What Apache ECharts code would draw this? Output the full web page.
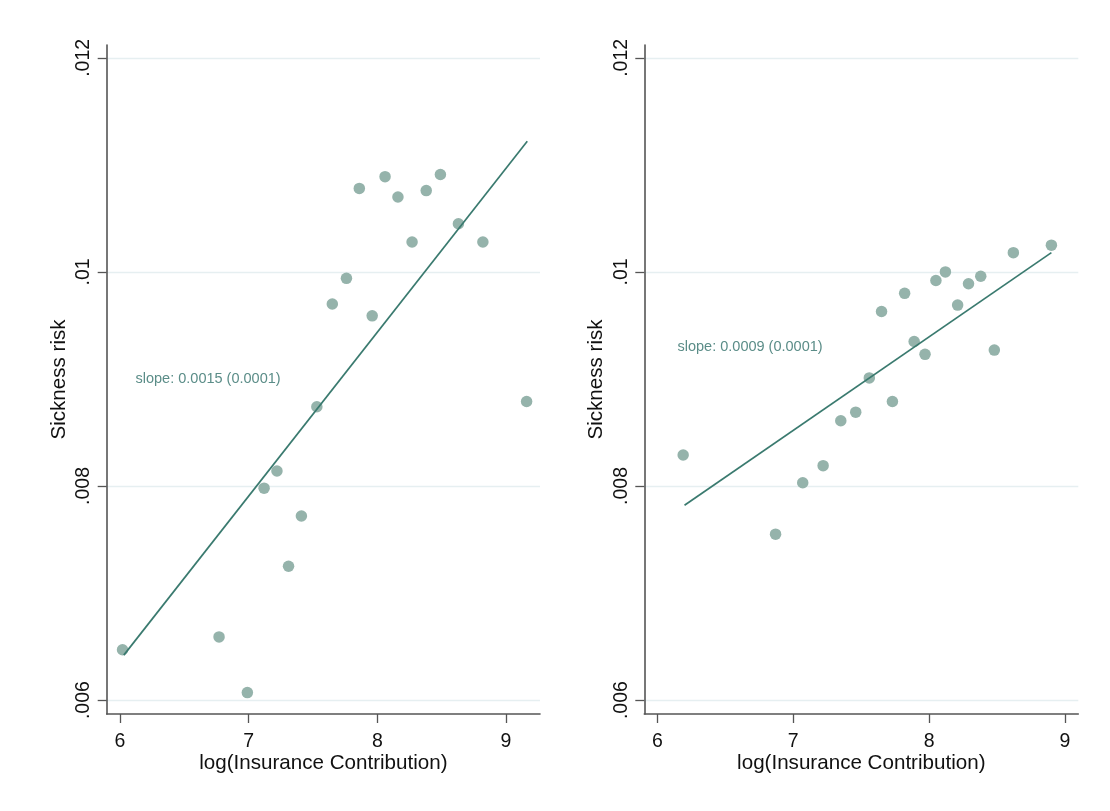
<!DOCTYPE html>
<html>
<head>
<meta charset="utf-8">
<script src="https://cdn.jsdelivr.net/npm/echarts@6/dist/echarts.min.js"></script>
<style>
html, body { margin: 0; padding: 0; background: #fff; }
#chart { width: 1110px; height: 811px; }
</style>
</head>
<body>
<div id="chart"></div>
<script>
// 左图：散点
var leftX = [6.02, 6.77, 6.99, 7.12, 7.22, 7.31, 7.41, 7.53, 7.65, 7.76, 7.86, 7.96, 8.06, 8.16, 8.27, 8.38, 8.49, 8.63, 8.82, 9.16];
var leftY = [0.00647, 0.00659, 0.00607, 0.00798, 0.00814, 0.00725, 0.00772, 0.00874, 0.00970, 0.00994, 0.01078, 0.00959, 0.01089, 0.01070, 0.01028, 0.01076, 0.01091, 0.01045, 0.01028, 0.00879];
// 左图：拟合线端点
var leftFitX = [6.03, 9.165];
var leftFitY = [0.00642, 0.01122];

// 右图：散点
var rightX = [6.19, 6.87, 7.07, 7.22, 7.35, 7.46, 7.56, 7.65, 7.73, 7.82, 7.89, 7.97, 8.05, 8.12, 8.21, 8.29, 8.38, 8.48, 8.62, 8.90];
var rightY = [0.00829, 0.00755, 0.00803, 0.00819, 0.00861, 0.00869, 0.00901, 0.00963, 0.00879, 0.00980, 0.00935, 0.00923, 0.00992, 0.01000, 0.00969, 0.00989, 0.00996, 0.00927, 0.01018, 0.01025];
var rightFitX = [6.2, 8.9];
var rightFitY = [0.00782, 0.01018];

var xTicks = [6, 7, 8, 9];
var yTicks = [0.006, 0.008, 0.010, 0.012];
var yTickLabels = [".006", ".008", ".01", ".012"];
var slopeLabels = ["slope: 0.0015 (0.0001)", "slope: 0.0009 (0.0001)"];

function pairs(xs, ys) {
    var out = [];
    for (var i = 0; i < xs.length; i++) {
        out.push([xs[i], ys[i]]);
    }
    return out;
}

var chart = echarts.init(document.getElementById("chart"));

var axisColor = "#555";
var font = "Liberation Sans, Arial, sans-serif";

function xAxisFor(gridIndex, min, max) {
    return {
        type: "value",
        gridIndex: gridIndex,
        min: min,
        max: max,
        name: "log(Insurance Contribution)",
        nameLocation: "middle",
        nameGap: 39,
        nameMoveOverlap: false,
        nameTextStyle: { fontSize: 20.6, color: "#111", fontFamily: font },
        axisLine: { show: true, onZero: false, lineStyle: { color: axisColor, width: 1.6 } },
        axisTick: { show: true, length: 9, customValues: xTicks, lineStyle: { color: axisColor, width: 1.3 } },
        axisLabel: { customValues: xTicks, margin: 17.5, fontSize: 19.5, color: "#111", fontFamily: font, showMinLabel: true, showMaxLabel: true },
        splitLine: { show: false }
    };
}

function yAxisFor(gridIndex) {
    return {
        type: "value",
        gridIndex: gridIndex,
        min: 0.00587,
        max: 0.01212,
        name: "Sickness risk",
        nameLocation: "middle",
        nameGap: 37,
        nameTextStyle: { fontSize: 20.6, color: "#111", fontFamily: font },
        axisLine: { show: true, onZero: false, lineStyle: { color: axisColor, width: 1.6 } },
        axisTick: { show: true, length: 9, customValues: yTicks, lineStyle: { color: axisColor, width: 1.3 } },
        axisLabel: {
            customValues: yTicks,
            rotate: 90,
            margin: 13,
            fontSize: 19.5,
            color: "#111",
            fontFamily: font,
            formatter: function(v) {
                for (var i = 0; i < yTicks.length; i++) {
                    if (Math.abs(yTicks[i] - v) < 1e-9) return yTickLabels[i];
                }
                return "";
            }
        },
        splitLine: { show: true, lineStyle: { color: "#e6eff1", width: 1.3 } }
    };
}

var option = {
    backgroundColor: "#fff",
    animation: false,
    grid: [
        { left: 106.7, top: 45, width: 433.3, height: 669 },
        { left: 644.3, top: 45, width: 434, height: 669 }
    ],
    xAxis: [
        xAxisFor(0, 5.897, 9.264),
        xAxisFor(1, 5.904, 9.098)
    ],
    yAxis: [
        yAxisFor(0),
        yAxisFor(1)
    ],
    graphic: [
        {
            type: "text",
            left: 135.5,
            top: 371,
            style: { text: slopeLabels[0], fontSize: 14.5, fill: "#5b8d88", fontFamily: font }
        },
        {
            type: "text",
            left: 677.5,
            top: 339,
            style: { text: slopeLabels[1], fontSize: 14.5, fill: "#5b8d88", fontFamily: font }
        }
    ],
    series: [
        {
            type: "scatter",
            xAxisIndex: 0,
            yAxisIndex: 0,
            symbolSize: 11.5,
            itemStyle: { color: "#95b3ab", opacity: 1 },
            data: pairs(leftX, leftY)
        },
        {
            type: "line",
            xAxisIndex: 0,
            yAxisIndex: 0,
            showSymbol: false,
            symbol: "none",
            lineStyle: { color: "#3a7a6f", width: 1.7 },
            data: pairs(leftFitX, leftFitY)
        },
        {
            type: "scatter",
            xAxisIndex: 1,
            yAxisIndex: 1,
            symbolSize: 11.5,
            itemStyle: { color: "#95b3ab", opacity: 1 },
            data: pairs(rightX, rightY)
        },
        {
            type: "line",
            xAxisIndex: 1,
            yAxisIndex: 1,
            showSymbol: false,
            symbol: "none",
            lineStyle: { color: "#3a7a6f", width: 1.7 },
            data: pairs(rightFitX, rightFitY)
        }
    ]
};

chart.setOption(option);
</script>
</body>
</html>
